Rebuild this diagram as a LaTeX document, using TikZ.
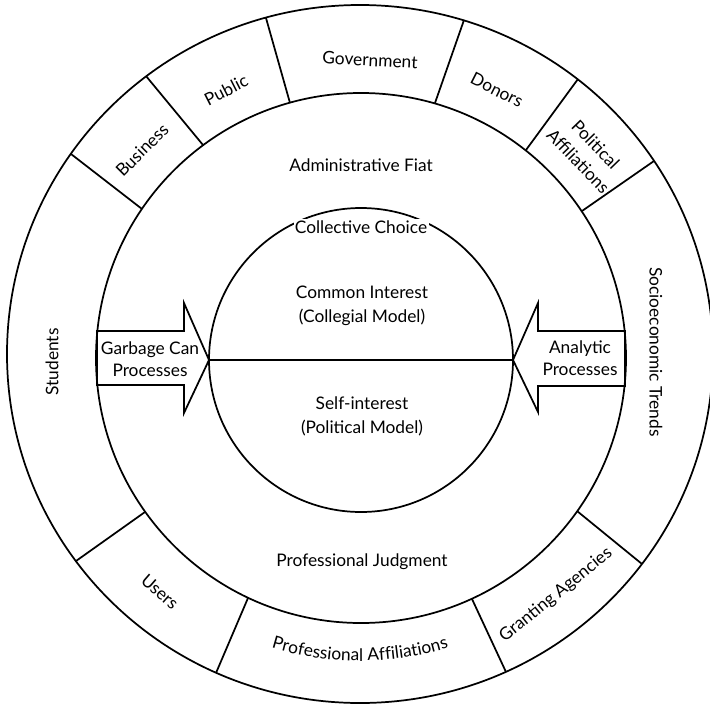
\documentclass[tikz,border=0pt]{standalone}
\usepackage{fontspec}
\setmainfont{Lato}
\usetikzlibrary{decorations.text}

\begin{document}
\begin{tikzpicture}[x=0.75pt,y=0.75pt,yscale=-1,xscale=1,line width=1.3pt,
  lbl/.style={font=\fontsize{13}{15}\selectfont,inner sep=1pt,align=center},
  mid/.style={lbl,font=\fontsize{13}{18}\selectfont}]
\useasboundingbox (0,0) rectangle (710,703);

%Shape: Ellipse outer ring
\draw (360,354) ellipse (353 and 349);
%Shape: Circle middle ring
\draw (361,358) circle (265);
%Shape: Circle core
\draw (361,360) circle (152);

%Straight Lines: ring dividers
\foreach \xa/\ya/\xb/\yb in {71/154/142/209, 146/76/203/145, 266/18/290/103, 464/20/435/103, 578/79/526/150,
  654/161/582/211, 642/564/577/511, 506/672/472/599, 216/673/248/598, 76/561/145/512}
  \draw (\xa,\ya) -- (\xb,\yb);

%Shape: Arrows
\coordinate (gtip) at (209,360);
\coordinate (atip) at (513,360);
\draw (97,331) -- (184,331) -- (184,303) -- (gtip) -- (184,413) -- (184,385) -- (97,385) -- cycle;
\draw (625,331) -- (538,331) -- (538,303) -- (atip) -- (538,412) -- (538,386) -- (625,386) -- cycle;
%Straight Lines
\draw (gtip) -- (atip);

%Text Nodes: inner
\node[lbl] (fiat) at (361,165) {Administrative Fiat};
\node[lbl,fill=white] (choice) at (361,227) {Collective Choice};
\node[mid] (common) at (362,306) {Common Interest\\(Collegial Model)};
\node[mid] (self) at (362,416) {Self-interest\\(Political Model)};
\node[lbl] (judgment) at (362,562) {Professional Judgment};
\node[lbl,font=\fontsize{13}{16.5}\selectfont] (garbage) at (150,359) {Garbage Can\\Processes};
\node[lbl,font=\fontsize{13}{16.5}\selectfont] (analytic) at (580,358) {Analytic\\Processes};

%Text Nodes: outer ring
\node[lbl,rotate=90] (students) at (52,362) {Students};
\node[lbl,rotate=-90] (socio) at (656,352) {Socioeconomic Trends};
\node[lbl,rotate=45] (business) at (142,150) {Business};
\node[lbl,rotate=27] (public) at (226,90) {Public};
\node[lbl,rotate=-3] (government) at (370,60) {Government};
\node[lbl,rotate=-27] (donors) at (497,90) {Donors};
\node[mid,rotate=-46] (political) at (587,153) {Political\\Affiliations};
\node[lbl,rotate=39] (granting) at (556,595) {Granting Agencies};
\node[lbl,rotate=-41] (users) at (160,592) {Users};
\path[decorate,decoration={text along path,text align=center,
  text={|\fontsize{13}{15}\selectfont|Professional Affiliations}}]
  (360,356) ++(125:305) arc[start angle=125,end angle=55,radius=305];

\end{tikzpicture}
\end{document}
